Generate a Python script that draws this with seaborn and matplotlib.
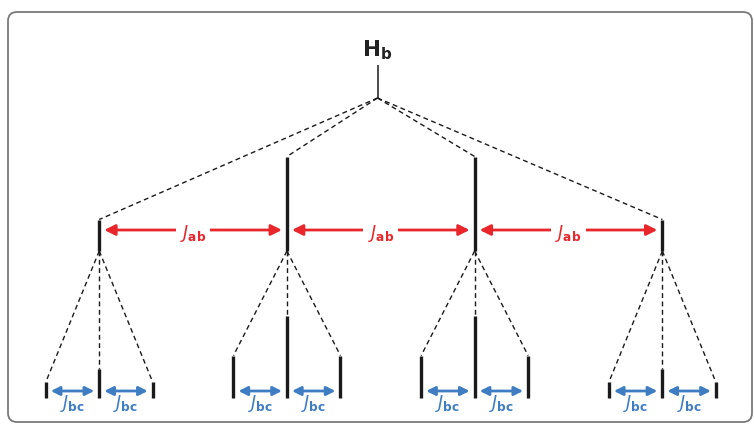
import numpy as np
import matplotlib
matplotlib.use("Agg")
import matplotlib.pyplot as plt
from matplotlib.patches import FancyBboxPatch
import seaborn as sns

sns.set_theme(style="white")
plt.rcParams["font.family"] = ["DejaVu Sans"]
plt.rcParams["mathtext.fontset"] = "dejavusans"

# ---- data (splitting tree) ----
level1_intensity = [1, 3, 3, 1]      # quartet from J_ab
level2_intensity = [1, 2, 1]         # triplet from J_bc
J_ab = 187.7
J_bc = 53.5
top_label = r"$\mathbf{H}_{\mathbf{b}}$"
jab_label = r"$J_{\mathbf{ab}}$"
jbc_label = r"$J_{\mathbf{bc}}$"

# ---- layout / style ----
center = 380.8
top_x = 377.5
y0_top, y0_bot = 65, 98
y1_bot, unit1 = 251, 31.5
y2_bot, unit2, base2 = 398, 13.3, 2.5
red = "#E8262C"
blue = "#3F7DC3"
black = "#1a1a1a"

fig = plt.figure(figsize=(7.54, 4.25), dpi=100)
ax = fig.add_axes([0, 0, 1, 1])
ax.set_xlim(0, 754)
ax.set_ylim(425, 0)
ax.axis("off")

# border
ax.add_patch(FancyBboxPatch((8, 12), 744, 410,
                            boxstyle="round,pad=0,rounding_size=9",
                            fc="none", ec="#7a7a7a", lw=1.3))

# level 0
ax.vlines(top_x, y0_top, y0_bot, color=black, lw=1.1)
ax.text(top_x, 50, top_label, ha="center", va="center", fontsize=15.5, color="#222222")

n1 = len(level1_intensity)
x1 = center + (np.arange(n1) - (n1 - 1) / 2) * J_ab
tops1 = [y1_bot - unit1 * i for i in level1_intensity]

dash = dict(color=black, lw=1.0, ls=(0, (3.5, 2.5)))
for xi, ti in zip(x1, tops1):
    ax.plot([top_x, xi], [y0_bot, ti], **dash)
ax.vlines(x1, tops1, y1_bot, color=black, lw=2.4)

# J_ab arrows
for a, b in zip(x1[:-1], x1[1:]):
    ax.annotate("", xy=(b - 5, 230), xytext=(a + 5, 230),
                arrowprops=dict(arrowstyle="<|-|>", color=red, lw=2.0,
                                mutation_scale=16, shrinkA=0, shrinkB=0))
    ax.text((a + b) / 2, 233, jab_label, ha="center", va="center", fontsize=12.5,
            color=red, bbox=dict(fc="white", ec="none", pad=3))

# level 2
n2 = len(level2_intensity)
offs2 = (np.arange(n2) - (n2 - 1) / 2) * J_bc
for xi, inten in zip(x1, level1_intensity):
    x2 = xi + offs2
    tops2 = [y2_bot - base2 - unit2 * inten * k for k in level2_intensity]
    for xx, tt in zip(x2, tops2):
        ax.plot([xi, xx], [y1_bot, tt], **dash)
    ax.vlines(x2, tops2, y2_bot, color=black, lw=2.4)
    for a, b in zip(x2[:-1], x2[1:]):
        ax.annotate("", xy=(b - 5, 391), xytext=(a + 5, 391),
                    arrowprops=dict(arrowstyle="<|-|>", color=blue, lw=2.0,
                                    mutation_scale=13, shrinkA=0, shrinkB=0))
        ax.text((a + b) / 2, 404, jbc_label, ha="center", va="center",
                fontsize=12.5, color=blue)

fig.savefig("out.png", dpi=100)
